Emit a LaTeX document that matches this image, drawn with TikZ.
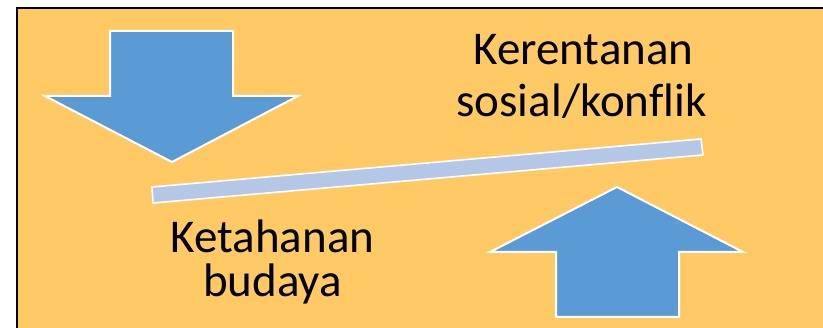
\documentclass[tikz,border=0pt]{standalone}
\usepackage{fontspec}
\setmainfont{Carlito}[Ligatures=NoCommon]
\definecolor{bgorange}{HTML}{FFCA65}
\definecolor{arrowblue}{HTML}{5B9BD5}
\definecolor{barblue}{HTML}{B4C7E7}
\tikzset{
  bigarrow/.style={fill=arrowblue, draw=white, line width=2pt, line join=miter},
  lever/.style={fill=barblue, draw=white, line width=1.6pt},
  label/.style={font=\fontsize{47}{52}\selectfont, text=black, anchor=base, inner sep=0pt}
}
\begin{document}
\begin{tikzpicture}[x=1pt,y=-1pt]
\useasboundingbox (0,0) rectangle (823,328);
\begin{scope}
\clip (0,0) rectangle (823,328);
\fill[white] (0,0) rectangle (823,328);
\draw[fill=bgorange, draw=black, line width=2pt] (17,8) rectangle (840,345);
\end{scope}
% down arrow
\draw[bigarrow] (110,31) -- (233,31) -- (233,96) -- (298,96) -- (172,162) -- (45,96) -- (110,96) -- cycle;
% up arrow
\draw[bigarrow] (556,317) -- (679,317) -- (679,252) -- (743,252) -- (617,187) -- (490,252) -- (556,252) -- cycle;
% lever bar
\draw[lever] (152,187) -- (701,139) -- (703,155) -- (153,203) -- cycle;
\node[label] (k1) at (583.5,65) {Kerentanan};
\node[label] (k2) at (581.5,117) {sosial/konflik};
\node[label] (t1) at (272.5,253) {Ketahanan};
\node[label] (t2) at (272.5,297) {budaya};
\end{tikzpicture}
\end{document}
